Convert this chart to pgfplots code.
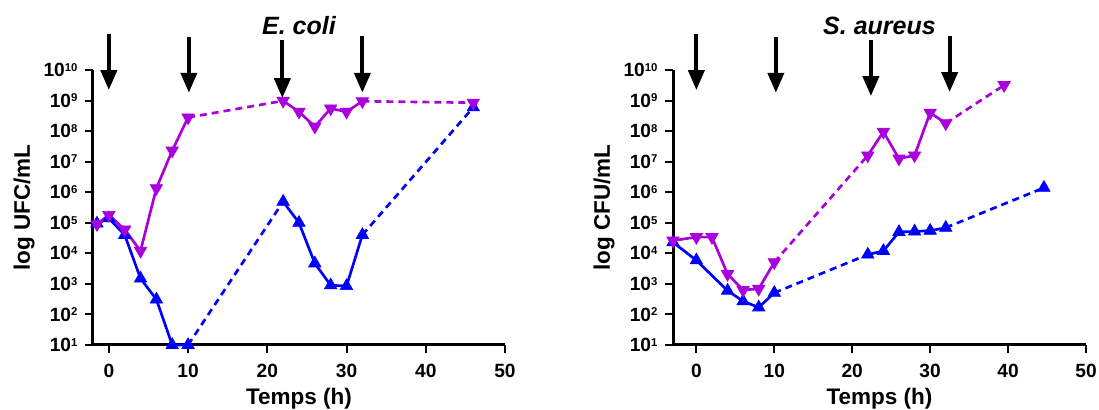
\documentclass[border=0pt]{standalone}
\usepackage{fontspec}
\setmainfont{Liberation Sans}
\usepackage{pgfplots}
\pgfplotsset{compat=1.18}
\usetikzlibrary{arrows.meta}
\definecolor{cpurple}{RGB}{170,0,220}
\definecolor{cblue}{RGB}{0,0,255}
\newcommand{\tl}[1]{10\raisebox{3.2pt}{\fontsize{6.8}{6}\selectfont\bfseries #1}}
\tikzset{
 solB/.style={color=cblue, line width=1.6pt, mark=triangle*, mark size=4.3pt, mark options={line width=0.4pt, solid}},
 solP/.style={color=cpurple, line width=1.6pt, mark=triangle*, mark size=4.3pt, mark options={line width=0.4pt, solid, rotate=180}},
 dashB/.style={color=cblue, line width=1.6pt, dash pattern=on 4.2pt off 3pt},
 dashP/.style={color=cpurple, line width=1.6pt, dash pattern=on 4.2pt off 3pt},
 arr/.style={line width=2.4pt, black, -{Triangle[width=9.6pt,length=12pt]}},
}
\pgfplotsset{
  scale only axis, height=165pt,
  ymin=1e1, ymax=1e10, xmax=50,
  axis x line*=bottom, axis y line*=left,
  axis line style={line width=1.8pt, -},
  major tick length=4.8pt, tick align=outside,
  tick style={line width=1.2pt, black},
  xtick={0,10,20,30,40,50},
  xticklabels={0,10,20,30,40,50},
  ytick={1e1,1e2,1e3,1e4,1e5,1e6,1e7,1e8,1e9,1e10},
  yticklabels={\tl{1},\tl{2},\tl{3},\tl{4},\tl{5},\tl{6},\tl{7},\tl{8},\tl{9},\tl{10}},
  tick label style={font=\fontsize{11.5}{12}\selectfont\bfseries},
  yticklabel style={xshift=-1pt},
  xticklabel style={yshift=-3pt},
  label style={font=\fontsize{13.5}{14}\selectfont\bfseries},
  xlabel style={at={(axis description cs:0.5,0)}, anchor=base, yshift=-36pt},
  ylabel style={at={(axis description cs:-0.153,0.5)}, anchor=base},
  title style={font=\fontsize{15}{15}\selectfont\bfseries\itshape, at={(axis description cs:0.5,1)}, anchor=base, yshift=15pt},
  clip=false,
}
\begin{document}
\begin{tikzpicture}
\path[use as bounding box] (0,0) rectangle (659.4pt,246pt);
% ---------------- E. coli ----------------
\begin{semilogyaxis}[at={(55.8pt,39pt)}, anchor=south west, xmin=-2, width=247.2pt,
  yminorticks=false,
  title={E. coli}, xlabel={Temps (h)}, ylabel={log UFC/mL}]
\addplot[dashB, no marks] coordinates {(10,10)(22,4.9e5)};
\addplot[dashB, no marks] coordinates {(32,4e4)(46,6e8)};
\addplot[solB] coordinates {(-1.5,9.5e4)(0,1.4e5)(2,4e4)(4,1.5e3)(6,3.1e2)(8,10)(10,10)};
\addplot[solB] coordinates {(22,4.9e5)(24,1e5)(26,4.7e3)(28,9e2)(30,8.5e2)(32,4e4)};
\addplot[solB, only marks] coordinates {(46,6e8)};
\addplot[dashP, no marks] coordinates {(10,2.8e8)(22,9.8e8)};
\addplot[dashP, no marks] coordinates {(32,9.5e8)(46,8.5e8)};
\addplot[solP] coordinates {(-1.5,9e4)(0,1.8e5)(2,6e4)(4,1.2e4)(6,1.35e6)(8,2.3e7)(10,2.8e8)};
\addplot[solP] coordinates {(22,9.8e8)(24,4.3e8)(26,1.4e8)(28,5.5e8)(30,4.3e8)(32,9.5e8)};
\addplot[solP, only marks] coordinates {(46,8.5e8)};
\draw[arr] (axis cs:0,1.5e11) -- (axis cs:0,2.2e9);
\draw[arr] (axis cs:10.1,1.2e11) -- (axis cs:10.1,1.8e9);
\draw[arr] (axis cs:21.9,9.5e10) -- (axis cs:21.9,1.2e9);
\draw[arr] (axis cs:32,1.3e11) -- (axis cs:32,1.8e9);
\end{semilogyaxis}
% ---------------- S. aureus ----------------
\begin{semilogyaxis}[at={(403.8pt,39pt)}, anchor=south west, xmin=-3, width=247.8pt,
  yminorticks=false,
  title={S. aureus}, xlabel={Temps (h)}, ylabel={log CFU/mL}]
\addplot[dashB, no marks] coordinates {(10,5.1e2)(22,9.1e3)};
\addplot[dashB, no marks] coordinates {(32,6.9e4)(44.6,1.4e6)};
\addplot[solB] coordinates {(-3,2.3e4)(0,5.9e3)(4,6e2)(6,2.7e2)(8,1.7e2)(10,5.1e2)};
\addplot[solB] coordinates {(22,9.1e3)(24,1.2e4)(26,5e4)(28,5.2e4)(30,5.5e4)(32,6.9e4)};
\addplot[solB, only marks] coordinates {(44.6,1.4e6)};
\addplot[dashP, no marks] coordinates {(10,5.1e3)(22,1.6e7)};
\addplot[dashP, no marks] coordinates {(32,1.8e8)(39.5,3.2e9)};
\addplot[solP] coordinates {(-3,2.6e4)(0,3.4e4)(2,3.4e4)(4,2.1e3)(6,6.3e2)(8,6.9e2)(10,5.1e3)};
\addplot[solP] coordinates {(22,1.6e7)(24,9.5e7)(26,1.26e7)(28,1.6e7)(30,4e8)(32,1.8e8)};
\addplot[solP, only marks] coordinates {(39.5,3.2e9)};
\draw[arr] (axis cs:0,1.5e11) -- (axis cs:0,2.2e9);
\draw[arr] (axis cs:10.2,1.2e11) -- (axis cs:10.2,1.8e9);
\draw[arr] (axis cs:22.4,9.5e10) -- (axis cs:22.4,1.4e9);
\draw[arr] (axis cs:32.5,1.3e11) -- (axis cs:32.5,1.9e9);
\end{semilogyaxis}
\end{tikzpicture}
\end{document}
